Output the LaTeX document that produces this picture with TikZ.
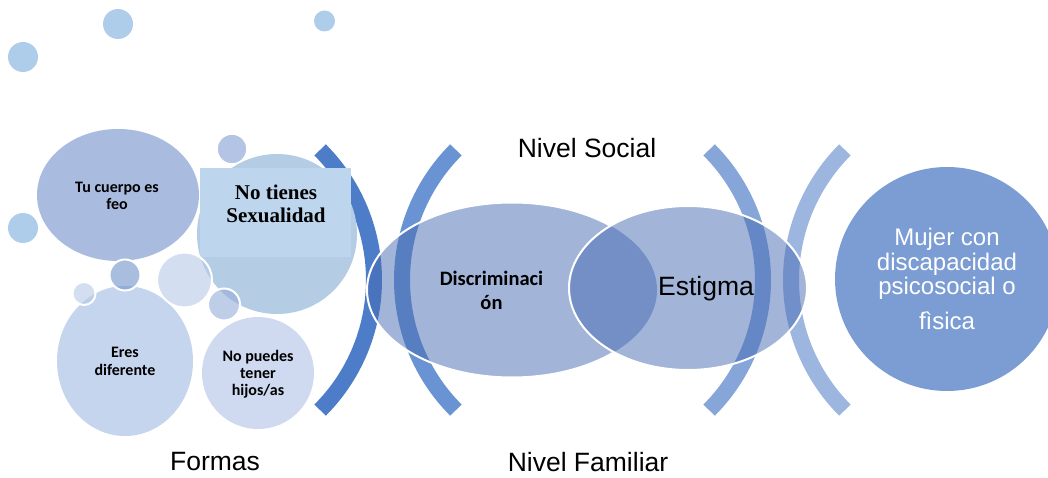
\documentclass[tikz,border=0pt]{standalone}
\usepackage{fontspec}
\setmainfont{Liberation Sans}
\newfontfamily\calibf{Carlito}
\newfontfamily\timesf{Liberation Serif}
\usetikzlibrary{shapes.geometric}
\definecolor{dotblue}{RGB}{173,205,234}
\definecolor{tucolor}{RGB}{169,188,223}
\definecolor{ntcircle}{RGB}{181,205,228}
\definecolor{ntrect}{RGB}{189,213,237}
\definecolor{erescol}{RGB}{198,213,238}
\definecolor{puedescol}{RGB}{207,218,240}
\definecolor{smallA}{RGB}{180,196,228}
\definecolor{clA}{RGB}{113,147,203}
\definecolor{clB}{RGB}{183,202,230}
\definecolor{clC}{RGB}{147,173,217}
\definecolor{brA}{RGB}{77,125,200}
\definecolor{brB}{RGB}{106,147,211}
\definecolor{brC}{RGB}{134,165,216}
\definecolor{brD}{RGB}{157,182,224}
\definecolor{ellcol}{RGB}{71,107,179}
\definecolor{mujercol}{RGB}{123,157,212}
\begin{document}
\begin{tikzpicture}[x=1pt,y=-1pt,
  dot/.style={circle, fill=dotblue, inner sep=0, minimum size=#1},
  bubble/.style={circle, inner sep=0, minimum size=#1},
  oval/.style={ellipse, inner sep=0},
  clbub/.style={circle, inner sep=0, minimum size=#1, draw=white, line width=2, fill opacity=0.6},
  band/.style={line width=16, line cap=butt},
  lab/.style={font=\fontsize{26.5}{30}\selectfont, inner sep=0},
  smalltxt/.style={font=\calibf\bfseries\fontsize{16}{17}\selectfont, align=center, inner sep=0},
  venn/.style={ellipse, inner sep=0, fill=ellcol, fill opacity=0.5, text opacity=1}
]
\useasboundingbox[fill=white] (0,0) rectangle (1048,478);

% top dots
\node[dot=30] (d1) at (118,24) {};
\node[dot=30] (d2) at (23,57) {};
\node[dot=21] (d3) at (324.5,21) {};
\node[dot=30] (d4) at (23,228) {};

% brackets
\draw[band, draw=brA] plot[domain=-45:45, samples=60] ({190+184*cos(\x)},{280+184*sin(\x)});
\draw[band, draw=brB] plot[domain=-45:45, samples=60] ({586-184*cos(\x)},{280+184*sin(\x)});
\draw[band, draw=brC] plot[domain=-45:45, samples=60] ({579+184*cos(\x)},{280+184*sin(\x)});
\draw[band, draw=brD] plot[domain=-45:45, samples=60] ({975-184*cos(\x)},{280+184*sin(\x)});

% left cluster
\node[oval, fill=tucolor, minimum width=162, minimum height=132] (tu) at (118,195) {};
\node[smalltxt] (tut) at (117,195.5) {Tu cuerpo es\\feo};
\node[bubble=160, fill=ntcircle] (nt) at (277,234) {};
\fill[ntrect] (200,168) rectangle (351,257);
\node[font=\timesf\bfseries\fontsize{21}{23}\selectfont, align=center, inner sep=0] (ntt) at (276,204) {No tienes\\Sexualidad};
\node[bubble=30, fill=smallA, draw=white, line width=1.5] (sa) at (232,149) {};
\node[oval, fill=erescol, minimum width=136, minimum height=150] (er) at (125,361) {};
\node[smalltxt, font=\calibf\bfseries\fontsize{16}{18}\selectfont] (ert) at (125,361) {Eres\\diferente};
\node[bubble=112, fill=puedescol] (np) at (258,373) {};
\node[smalltxt] (npt) at (258,374) {No puedes\\tener\\hijos/as};
\node[clbub=31, fill=clA] (c1) at (125,275) {};
\node[clbub=55, fill=clB] (c2) at (184.5,280) {};
\node[clbub=23, fill=clB] (c3) at (84,293.5) {};
\node[clbub=32, fill=clC] (c4) at (224,304.5) {};

% venn
\node[venn, minimum width=290, minimum height=175] (disc) at (512,290) {};
\node[venn, minimum width=238, minimum height=164] (est) at (688,288) {};
\begin{scope}[even odd rule]
\clip (0,0) rectangle (1048,478) (688,288) ellipse [x radius=119, y radius=82];
\draw[white, line width=2] (disc.center) ellipse [x radius=145, y radius=87.5];
\end{scope}
\draw[white, line width=2] (est.center) ellipse [x radius=119, y radius=82];
\node[smalltxt, font=\calibf\bfseries\fontsize{20.5}{24}\selectfont] (disct) at (491.5,290) {Discriminaci\\ón};
\node[lab] (estt) at (706,289) {Estigma};

% right circle
\node[bubble=224, fill=mujercol] (mu) at (947,279) {};
\node[font=\fontsize{24}{24.5}\selectfont, align=center, text=white, inner sep=0] (mut) at (947,279) {Mujer con\\discapacidad\\psicosocial o\\[10pt]fìsica};

% labels
\node[lab] (formas) at (215,462) {Formas};
\node[lab] (social) at (587,148) {Nivel Social};
\node[lab] (familiar) at (588,462) {Nivel Familiar};
\end{tikzpicture}
\end{document}
